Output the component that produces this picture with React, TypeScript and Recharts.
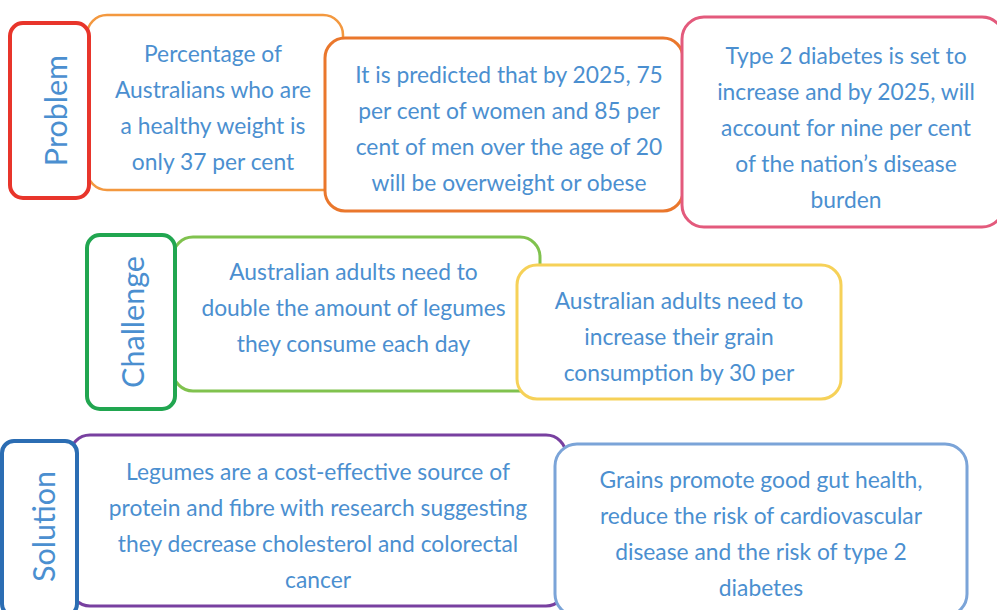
import React from 'react';
import { ComposedChart, XAxis, YAxis, ReferenceArea } from 'recharts';

// ---- content (data) ----
const rowLabels = ['Problem', 'Challenge', 'Solution'];
const problemTexts: string[][] = [
  ['Percentage of', 'Australians who are', 'a healthy weight is', 'only 37 per cent'],
  ['It is predicted that by 2025, 75', 'per cent of women and 85 per', 'cent of men over the age of 20', 'will be overweight or obese'],
  ['Type 2 diabetes is set to', 'increase and by 2025, will', 'account for nine per cent', 'of the nation\u2019s disease', 'burden'],
];
const challengeTexts: string[][] = [
  ['Australian adults need to', 'double the amount of legumes', 'they consume each day'],
  ['Australian adults need to', 'increase their grain', 'consumption by 30 per'],
];
const solutionTexts: string[][] = [
  ['Legumes are a cost-effective source of', 'protein and fibre with research suggesting', 'they decrease cholesterol and colorectal', 'cancer'],
  ['Grains promote good gut health,', 'reduce the risk of cardiovascular', 'disease and the risk of type 2', 'diabetes'],
];

// ---- layout & style (diagram coordinates, same units as the axes) ----
type Box = {
  x1: number; x2: number; y1: number; y2: number;
  stroke: string; sw: number; r: number;
  lines?: string[]; label?: string; dx: number; dy: number;
};

const TEXT_COLOR = '#4b8fd0';
const FONT = 'Lato, "Open Sans", sans-serif';

const boxes: Box[] = [
  { x1: 87, x2: 343, y1: 15, y2: 190, stroke: '#f3983f', sw: 2.5, r: 20, lines: problemTexts[0], dx: -2, dy: 4 },
  { x1: 10, x2: 89, y1: 23, y2: 198, stroke: '#e8352b', sw: 4, r: 13, label: rowLabels[0], dx: 5, dy: 0 },
  { x1: 325, x2: 683, y1: 38, y2: 211, stroke: '#ea772c', sw: 3, r: 20, lines: problemTexts[1], dx: 5, dy: 3.5 },
  { x1: 682, x2: 1004, y1: 17, y2: 227, stroke: '#e35a7c', sw: 3, r: 22, lines: problemTexts[2], dx: 3, dy: 4.5 },
  { x1: 173, x2: 540, y1: 237, y2: 391, stroke: '#80c24e', sw: 3, r: 20, lines: challengeTexts[0], dx: -3, dy: -7 },
  { x1: 87, x2: 175, y1: 235, y2: 409, stroke: '#21a650', sw: 4, r: 13, label: rowLabels[1], dx: 1, dy: 0 },
  { x1: 517, x2: 841, y1: 265, y2: 399, stroke: '#f6d158', sw: 3, r: 20, lines: challengeTexts[1], dx: 0, dy: 3.5 },
  { x1: 70, x2: 566, y1: 435, y2: 606, stroke: '#7840a0', sw: 3, r: 20, lines: solutionTexts[0], dx: 0, dy: 4.5 },
  { x1: 2, x2: 77, y1: 441, y2: 616, stroke: '#2b6db3', sw: 4, r: 12, label: rowLabels[2], dx: 3, dy: -2 },
  { x1: 555, x2: 967, y1: 444, y2: 616, stroke: '#7ba4d8', sw: 3, r: 22, lines: solutionTexts[1], dx: 0, dy: 3 },
];

const LINE_GAP = 36;

function makeShape(b: Box) {
  return (props: any) => {
    const { x, y, width, height } = props;
    const cx = x + width / 2 + b.dx;
    const cy = y + height / 2 + b.dy;
    return (
      <g>
        <rect x={x} y={y} width={width} height={height} rx={b.r} ry={b.r}
          fill="#ffffff" stroke={b.stroke} strokeWidth={b.sw} />
        {b.lines && (
          <text fill={TEXT_COLOR} fontFamily={FONT} fontSize={22.8} textAnchor="middle">
            {b.lines.map((l, i) => (
              <tspan key={i} x={cx} y={cy + (i - (b.lines!.length - 1) / 2) * LINE_GAP} dominantBaseline="central">{l}</tspan>
            ))}
          </text>
        )}
        {b.label && (
          <text x={cx} y={cy} fill={TEXT_COLOR} fontFamily={FONT} fontSize={30.5}
            textAnchor="middle" dominantBaseline="central"
            transform={`rotate(-90 ${cx} ${cy})`}>{b.label}</text>
        )}
      </g>
    );
  };
}

export default function App() {
  return (
    <div style={{ position: 'absolute', left: 0, top: 0, width: 997, height: 610, background: '#fff' }}>
      <ComposedChart width={997} height={610} margin={{ top: 0, right: 0, bottom: 0, left: 0 }}>
        <XAxis type="number" dataKey="x" domain={[0, 997]} hide allowDataOverflow />
        <YAxis type="number" dataKey="y" domain={[0, 610]} reversed hide allowDataOverflow />
        {boxes.map((b, i) => (
          <ReferenceArea key={i} x1={b.x1} x2={b.x2} y1={b.y1} y2={b.y2}
            ifOverflow="visible" shape={makeShape(b)} isAnimationActive={false} />
        ))}
      </ComposedChart>
    </div>
  );
}
